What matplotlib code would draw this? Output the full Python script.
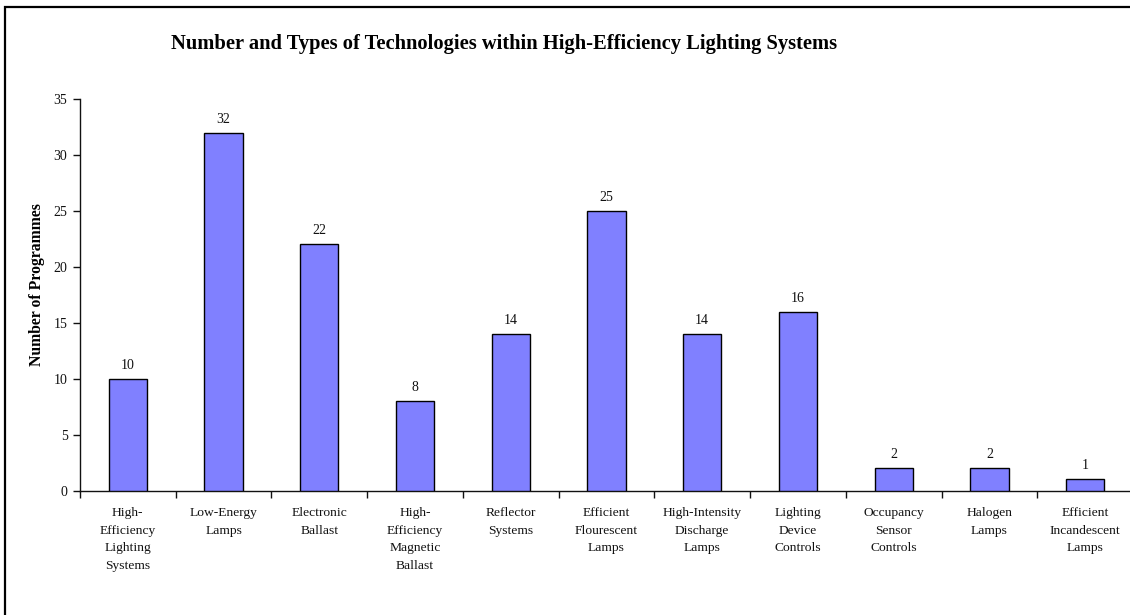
import matplotlib
matplotlib.use("Agg")
import matplotlib.pyplot as plt
from matplotlib.patches import Rectangle
import numpy as np

categories = [
    "High-\nEfficiency\nLighting\nSystems",
    "Low-Energy\nLamps",
    "Electronic\nBallast",
    "High-\nEfficiency\nMagnetic\nBallast",
    "Reflector\nSystems",
    "Efficient\nFlourescent\nLamps",
    "High-Intensity\nDischarge\nLamps",
    "Lighting\nDevice\nControls",
    "Occupancy\nSensor\nControls",
    "Halogen\nLamps",
    "Efficient\nIncandescent\nLamps",
]
programmes = [10, 32, 22, 8, 14, 25, 14, 16, 2, 2, 1]
y_ticks = [0, 5, 10, 15, 20, 25, 30, 35]

plt.rcParams["font.family"] = ["Liberation Serif", "DejaVu Serif"]

W, H = 1130, 615
fig = plt.figure(figsize=(W / 100, H / 100), dpi=100)
fig.patch.set_facecolor("white")

# plot area in pixel terms, converted to figure fractions
left, right, top, bottom = 80, 1133, 99, 490.5
ax = fig.add_axes([left / W, (H - bottom) / H, (right - left) / W, (bottom - top) / H])

x = np.arange(len(categories))
ax.bar(x, programmes, width=0.4, color="#8080FF", edgecolor="black", linewidth=1.0, zorder=3)

for xi, v in zip(x, programmes):
    ax.annotate(str(v), (xi, v), xytext=(0, 5), textcoords="offset points",
                ha="center", va="bottom", fontsize=10, color="#111111")

ax.set_xlim(-0.5, len(categories) - 0.5)
ax.set_ylim(0, 35)
ax.set_yticks(y_ticks)
ax.set_yticklabels([str(t) for t in y_ticks], fontsize=10, color="#111111")

ax.set_xticks(x)
ax.set_xticklabels(categories, fontsize=9.7, color="#111111", linespacing=1.62, va="top")
ax.set_xticks(np.arange(len(categories) + 1) - 0.5, minor=True)
ax.tick_params(axis="x", which="major", length=0, pad=12)
ax.tick_params(axis="x", which="minor", length=5, width=1, direction="out", color="#111111")
ax.tick_params(axis="y", length=5, width=1, direction="out", pad=4, color="#111111")

for side in ("top", "right"):
    ax.spines[side].set_visible(False)
for side in ("left", "bottom"):
    ax.spines[side].set_linewidth(1.0)
    ax.spines[side].set_color("#111111")

ax.set_ylabel("Number of Programmes", fontsize=11.3, fontweight="bold", labelpad=0)
ax.yaxis.set_label_coords((45 - left) / (right - left), (bottom - 285) / (bottom - top))

fig.text(504 / W, 1 - 44 / H, "Number and Types of Technologies within High-Efficiency Lighting Systems",
         ha="center", va="center", fontsize=14.8, fontweight="bold")

# chart-area frame
fig.add_artist(Rectangle((5 / W, -0.1), 1.2, (H - 7) / H + 0.1, transform=fig.transFigure,
                         fill=False, edgecolor="black", linewidth=1.6, clip_on=False))

fig.savefig("out.png", dpi=100, facecolor="white")
